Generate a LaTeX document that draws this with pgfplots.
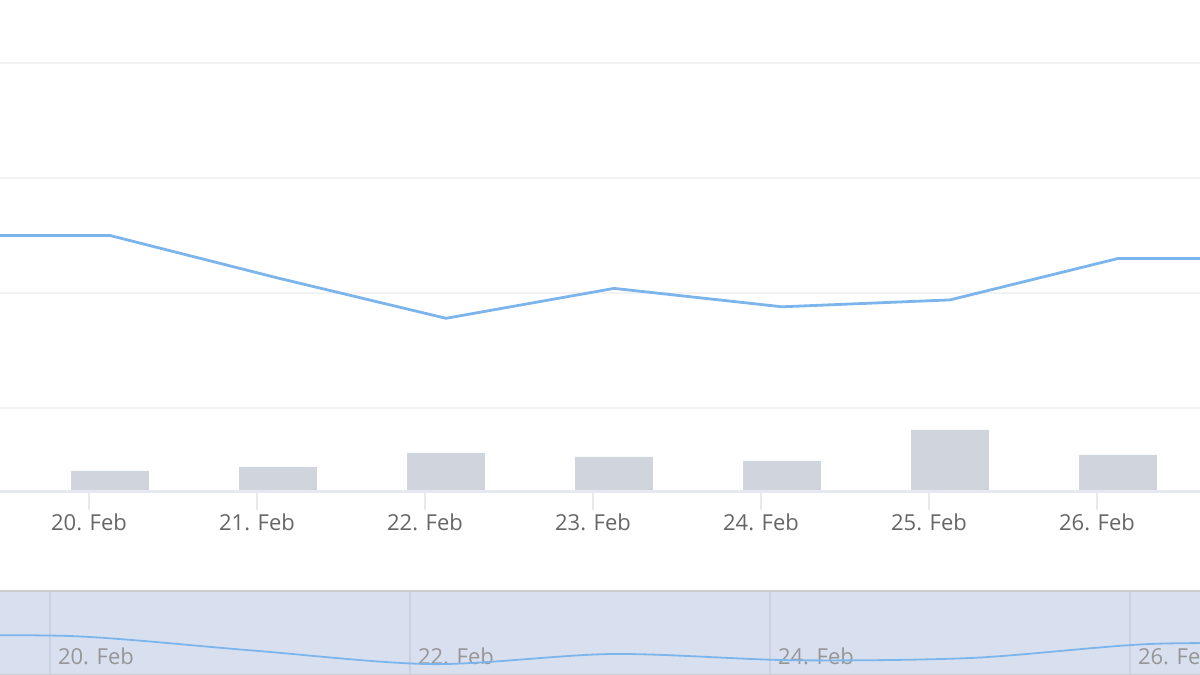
\documentclass[border=0pt]{standalone}
\usepackage{pgfplots}
\pgfplotsset{compat=1.18}
\usepackage{pgfplotstable}
\usepackage{fontspec}
\setmainfont{Open Sans}
\definecolor{linecol}{RGB}{124,181,236}
\definecolor{barcol}{RGB}{208,212,220}
\definecolor{axiscol}{RGB}{230,233,242}
\definecolor{gridcol}{RGB}{242,242,242}
\definecolor{labelcol}{RGB}{102,102,102}
\definecolor{navfill}{RGB}{216,224,240}
\definecolor{navgrid}{RGB}{200,208,226}
\definecolor{navborder}{RGB}{204,204,204}
\definecolor{navlabel}{RGB}{150,150,150}

\pgfplotstableread{
day price
19.125 115.0
20.125 115.0
21.125 111.3
22.125 107.8
23.125 110.4
24.125 108.8
25.125 109.4
26.125 113.0
27.125 113.0
}\pricedata

\pgfplotstableread{
day volume
20.125 2100
21.125 2500
22.125 3900
23.125 3500
24.125 3100
25.125 6200
26.125 3700
}\voldata

\begin{document}
\begin{tikzpicture}
\useasboundingbox (0pt,0pt) rectangle (600pt,337.5pt);
% price pane
\begin{axis}[at={(0pt,133.5pt)}, anchor=south west, scale only axis,
  width=600pt, height=172.5pt,
  xmin=19.4702, xmax=26.6131, ymin=100, ymax=130,
  axis line style={draw=none}, xtick=\empty,
  ytick={100,110,120,130}, yticklabels={}, major tick length=0pt,
  ymajorgrids, grid style={gridcol, line width=1pt}]
\addplot[linecol, line width=1.4pt, mark=none] table[x=day,y=price]{\pricedata};
\end{axis}
% volume pane
\begin{axis}[at={(0pt,91.5pt)}, anchor=south west, scale only axis,
  width=600pt, height=42pt,
  xmin=19.4702, xmax=26.6131, ymin=0, ymax=8400, clip=false,
  axis line style={draw=none}, ytick=\empty,
  xtick={20,21,22,23,24,25,26},
  xticklabels={20. Feb,21. Feb,22. Feb,23. Feb,24. Feb,25. Feb,26. Feb},
  xtick pos=left, tick align=outside, major tick length=9pt,
  x tick style={axiscol, line width=0.8pt},
  xticklabel style={font=\fontsize{11}{13}\selectfont, text=labelcol, anchor=center, yshift=-6pt}]
\addplot[ybar, bar width=0.464, fill=barcol, draw=none] table[x=day,y=volume]{\voldata};
\draw[axiscol, line width=1.5pt] (rel axis cs:0,0) -- (rel axis cs:1,0);
\end{axis}
% navigator
\begin{axis}[at={(0pt,0pt)}, anchor=south west, scale only axis,
  width=600pt, height=42pt,
  xmin=19.7222, xmax=26.3889, ymin=105, ymax=126.6,
  axis background/.style={fill=navfill},
  separate axis lines, x axis line style={navborder, line width=1pt}, y axis line style={draw=none},
  ytick=\empty, xtick={20,22,24,26},
  xticklabels={20. Feb,22. Feb,24. Feb,26. Feb},
  major tick length=0pt, xmajorgrids, grid style={navgrid, line width=0.6pt},
  xticklabel style={font=\fontsize{11}{13}\selectfont, text=navlabel, anchor=west, xshift=0.5pt, yshift=9.5pt}]
\addplot[linecol, line width=0.9pt, smooth, mark=none] table[x=day,y=price]{\pricedata};
\end{axis}
\end{tikzpicture}
\end{document}
